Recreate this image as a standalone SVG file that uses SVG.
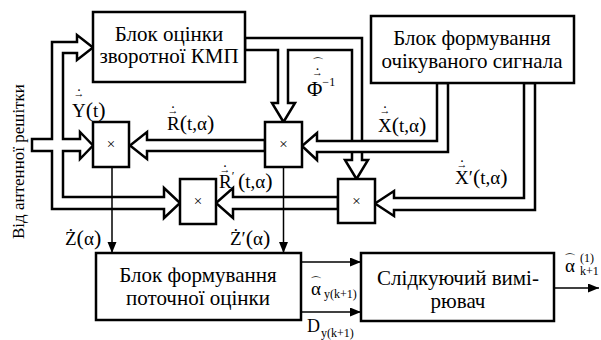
<svg xmlns="http://www.w3.org/2000/svg" width="601" height="340" viewBox="0 0 601 340">
<style>
.blk{fill:#fff;stroke:#000;stroke-width:2.5}
.bus{fill:#fff;stroke:#000;stroke-width:2.5;stroke-linejoin:miter}
.thin{stroke:#000;stroke-width:1.5;fill:none}
text{fill:#000}
.bt{font-size:21px;text-anchor:middle}
.m{font-size:19px}
.p{font-size:22px}
.acc{font-size:11px;text-anchor:middle}
.dot{font-size:14px;text-anchor:middle}
.hat{font-size:12px;text-anchor:middle}
.sub{font-size:12px}
.x{font-size:15px;text-anchor:middle}
</style>
<defs>
<marker id="ah" markerUnits="userSpaceOnUse" markerWidth="12" markerHeight="10" refX="11" refY="4.5" orient="auto"><path d="M0,0 L11,4.5 L0,9 z" fill="#000"/></marker>
</defs>

<g id="connectors">
<polygon class="bus" points="245,38 362,38 362,160 368,160 356.5,179 345,160 352,160 352,50 288,50 288,103 295,103 283.5,122 272,103 278,103 278,50 245,50"/>
<polygon class="bus" points="448,83 448,152 317,152 317,160 302,146 317,133 317,141 437,141 437,83"/>
<polygon class="bus" points="535,83 535,210 394,210 394,216 375,203.5 394,191 394,198 524,198 524,83"/>
<polygon class="bus" points="265,140 147,140 147,132 130,145.5 147,159 147,151 265,151"/>
<polygon class="bus" points="338,197 233,197 233,188 216,203 233,218 233,209 338,209"/>
<polygon class="bus" points="32,139 52,139 52,42 77,42 77,35 93,47.5 77,60 77,53 63,53 63,139 80,139 80,132 93,145.5 80,159 80,151 63,151 63,197 164,197 164,188 180,203 164,218 164,209 52,209 52,151 32,151"/>
<line class="thin" x1="112" y1="167" x2="112" y2="253" marker-end="url(#ah)"/>
<line class="thin" x1="283.5" y1="167" x2="283.5" y2="253" marker-end="url(#ah)"/>
<line class="thin" x1="301" y1="262" x2="361" y2="262" marker-end="url(#ah)"/>
<line class="thin" x1="301" y1="312" x2="361" y2="312" marker-end="url(#ah)"/>
<line class="thin" x1="554" y1="288" x2="599" y2="288" marker-end="url(#ah)"/>
</g>

<g font-family="Liberation Serif, Times New Roman, serif">
<g id="block-inverse">
<rect class="blk" x="93" y="12" width="152" height="70"/>
<text class="bt" x="169" y="41">Блок оцінки</text>
<text class="bt" x="169" y="63">зворотної КМП</text>
</g>
<g id="block-expected">
<rect class="blk" x="371" y="16" width="203" height="67"/>
<text class="bt" x="472" y="45">Блок формування</text>
<text class="bt" x="472" y="68">очікуваного сигнала</text>
</g>
<g id="block-current">
<rect class="blk" x="96" y="253" width="205" height="67"/>
<text class="bt" x="198" y="282">Блок формування</text>
<text class="bt" x="198" y="305">поточної оцінки</text>
</g>
<g id="block-tracker">
<rect class="blk" x="361" y="253" width="193" height="68"/>
<text class="bt" x="458" y="285">Слідкуючий вимі-</text>
<text class="bt" x="458" y="308">рювач</text>
</g>
<g id="mult1">
<rect class="blk" x="93" y="122" width="36" height="45"/>
<text class="x" x="111" y="149">×</text>
</g>
<g id="mult2">
<rect class="blk" x="265" y="122" width="37" height="45"/>
<text class="x" x="283.5" y="149">×</text>
</g>
<g id="mult3">
<rect class="blk" x="180" y="179" width="36" height="45"/>
<text class="x" x="198" y="206">×</text>
</g>
<g id="mult4">
<rect class="blk" x="338" y="179" width="37" height="44"/>
<text class="x" x="356.5" y="205.5">×</text>
</g>

<g id="labels">
<text x="24" y="239" font-size="17" transform="rotate(-90 24 239)">Від антенної решітки</text>

<text class="m" x="72" y="117">Y<tspan class="p">(</tspan>t<tspan class="p">)</tspan><tspan class="acc" x="79" y="97">→</tspan><tspan class="dot" x="79" y="90.5">.</tspan></text>

<text class="m" x="167" y="130">R<tspan class="p">(</tspan>t,α<tspan class="p">)</tspan><tspan class="acc" x="173" y="114">→</tspan><tspan class="dot" x="173" y="107.5">.</tspan></text>

<text class="m" x="378" y="132">X<tspan class="p">(</tspan>t,α<tspan class="p">)</tspan><tspan class="acc" x="385" y="114">→</tspan><tspan class="dot" x="385" y="107.5">.</tspan></text>

<text class="m" x="455" y="184">X′<tspan class="p">(</tspan>t,α<tspan class="p">)</tspan><tspan class="acc" x="462" y="168">→</tspan><tspan class="dot" x="462" y="161.5">.</tspan></text>

<text class="m" x="219" y="188">R<tspan font-size="12" dy="-8">′</tspan><tspan class="p" x="238" y="188">(</tspan>t,α<tspan class="p">)</tspan><tspan class="acc" x="225" y="173">→</tspan><tspan class="dot" x="225" y="166.5">.</tspan></text>

<text class="m" x="65" y="245">Ż<tspan class="p">(</tspan>α<tspan class="p">)</tspan></text>

<text class="m" x="230" y="245">Ż′<tspan class="p">(</tspan>α<tspan class="p">)</tspan></text>

<text font-size="21" x="307" y="96">Φ<tspan class="sub" y="86">−1</tspan><tspan class="acc" x="317.5" y="76">→</tspan><tspan class="dot" x="317.5" y="69.5">.</tspan><tspan class="hat" x="317.5" y="67">⌒</tspan></text>

<text class="m" x="311" y="295">α<tspan class="sub" x="324" y="298">y(k+1)</tspan><tspan class="hat" x="316" y="286">⌒</tspan></text>

<text font-size="18" x="307" y="332">D<tspan class="sub" x="321" y="337">y(k+1)</tspan></text>

<text class="m" x="565" y="272">α<tspan class="sub" x="580" y="262">(1)</tspan><tspan class="sub" x="580" y="275">k+1</tspan><tspan class="hat" x="570" y="263">⌒</tspan></text>
</g>
</g>
</svg>
